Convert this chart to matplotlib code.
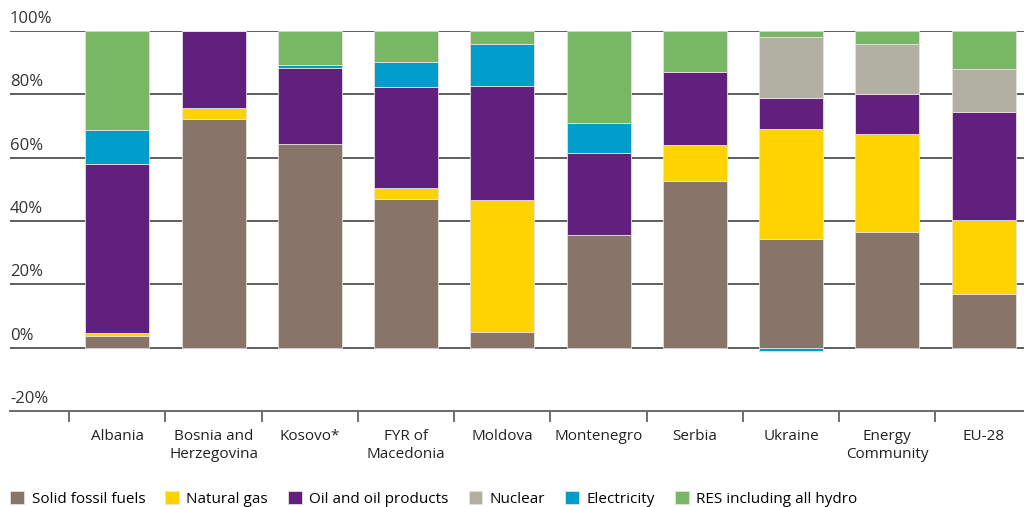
import matplotlib.pyplot as plt
import numpy as np

countries = ["Albania", "Bosnia and\nHerzegovina", "Kosovo*", "FYR of\nMacedonia", "Moldova",
             "Montenegro", "Serbia", "Ukraine", "Energy\nCommunity", "EU-28"]

solid = [3.6, 72.2, 64.4, 46.9, 5.0, 35.6, 52.6, 34.3, 36.5, 17.1]
gas = [1.0, 3.6, 0.0, 3.5, 41.5, 0.0, 11.3, 34.9, 30.9, 23.2]
oil = [53.3, 24.2, 24.0, 31.9, 36.2, 25.8, 23.3, 9.6, 12.7, 34.1]
nuclear = [0.0, 0.0, 0.0, 0.0, 0.0, 0.0, 0.0, 19.2, 15.8, 13.6]
electricity = [10.8, 0.0, 1.0, 7.9, 13.2, 9.6, 0.0, -1.2, 0.0, 0.0]
res = [31.3, 0.0, 10.6, 9.8, 4.1, 29.0, 12.8, 2.0, 4.1, 12.0]

series = [("Solid fossil fuels", solid, "#887569"),
          ("Natural gas", gas, "#FFD300"),
          ("Oil and oil products", oil, "#61207D"),
          ("Nuclear", nuclear, "#B2B0A3"),
          ("Electricity", electricity, "#009DCB"),
          ("RES including all hydro", res, "#78B865")]

yticks = [-20, 0, 20, 40, 60, 80, 100]

plt.rcParams['font.family'] = ['Open Sans', 'DejaVu Sans']

fig = plt.figure(figsize=(10.24, 5.07), dpi=100)
ax = fig.add_axes([10 / 1024, 1 - 411 / 507, 1 - 10 / 1024, 380 / 507])

x = np.arange(len(countries))
pos_base = np.zeros(len(countries))
neg_base = np.zeros(len(countries))
handles = []
for name, vals, color in series:
    v = np.array(vals)
    bottom = np.where(v >= 0, pos_base, neg_base)
    h = ax.bar(x, v, width=0.665, bottom=bottom, color=color, edgecolor="#e6e1dc",
               linewidth=0.6, zorder=3, label=name)
    handles.append(h)
    pos_base += np.where(v >= 0, v, 0)
    neg_base += np.where(v < 0, v, 0)

ax.set_ylim(-20, 100)
ax.set_xlim(-1.115, 9.42)

# gridlines and y labels sitting above the lines
for t in yticks:
    if t > -20:
        ax.axhline(t, color="#5e5e5e", linewidth=1.4, zorder=1)
    ax.text(0, t + 1.3, f"{t}%", transform=ax.get_yaxis_transform(), ha="left", va="bottom",
            fontsize=12, color="#333333")
ax.set_yticks([])

for s in ["top", "right", "left"]:
    ax.spines[s].set_visible(False)
ax.spines["bottom"].set_color("#6a6a6a")
ax.spines["bottom"].set_linewidth(1.4)

ax.set_xticks(x)
ax.set_xticklabels(countries, fontsize=11, color="#222222", linespacing=1.25)
ax.tick_params(axis="x", which="major", length=0, pad=13)
ax.set_xticks(np.arange(len(countries)) - 0.5, minor=True)
ax.tick_params(axis="x", which="minor", length=8, width=1.2, color="#555555")

fig.legend(handles=handles, loc="lower left", bbox_to_anchor=(0.004, -0.012), ncol=6, frameon=False,
           fontsize=11, handlelength=0.9, handleheight=0.9, handletextpad=0.5, columnspacing=1.3,
           borderaxespad=0.0)

fig.savefig("out.png", dpi=100)
